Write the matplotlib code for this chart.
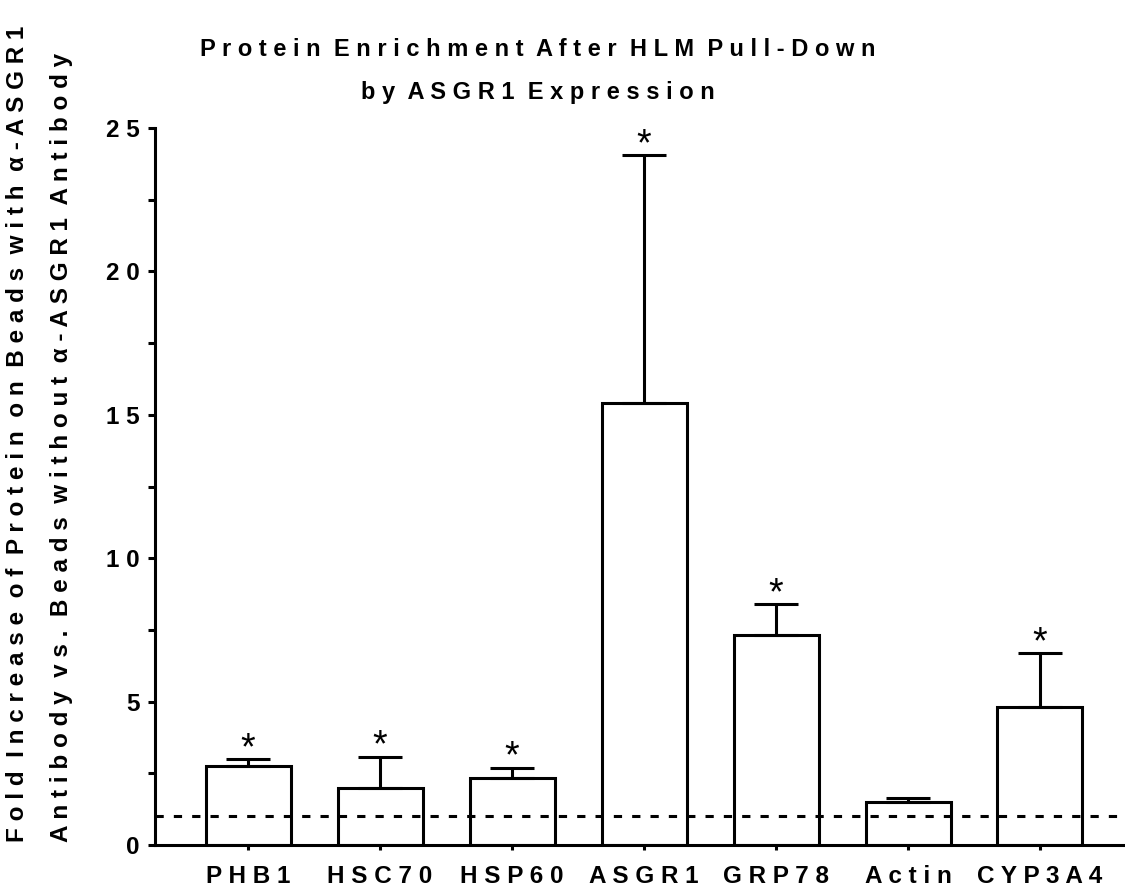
import matplotlib
matplotlib.use('Agg')
import matplotlib.pyplot as plt
import numpy as np

# data
proteins = ['PHB1', 'HSC70', 'HSP60', 'ASGR1', 'GRP78', 'Actin', 'CYP3A4']
fold = [2.76, 1.98, 2.33, 15.42, 7.32, 1.51, 4.81]
err_up = [0.23, 1.10, 0.37, 8.64, 1.08, 0.12, 1.89]
signif = [True, True, True, True, True, False, True]
yticks = [0, 5, 10, 15, 20, 25]
baseline = 1.0

title = 'Protein Enrichment After HLM Pull-Down\nby ASGR1 Expression'
ylab1 = 'Fold Increase of Protein on Beads with \u03b1-ASGR1'
ylab2 = 'Antibody vs. Beads without \u03b1-ASGR1 Antibody'

FONT = 'Liberation Sans'
LW = 2.2


def spaced(s):
    '''
    fake the wide letter spacing of the original
    '''
    return '\n'.join('  '.join(' '.join(w) for w in line.split(' '))
                     for line in s.split('\n'))


fig = plt.figure(figsize=(11.25, 8.9), dpi=100)
ax = fig.add_axes([155/1125, 1-845/890, 1-155/1125, (845-128)/890])

x = np.arange(len(proteins))
ax.bar(x, fold, width=0.644, color='white', edgecolor='black',
       linewidth=LW, zorder=2)
ax.errorbar(x, fold, yerr=[np.zeros(len(fold)), err_up], fmt='none',
            ecolor='black', elinewidth=LW, capsize=15.5, capthick=LW, zorder=3)
ax.axhline(baseline, color='black', lw=LW, ls=(0, (2.7, 3.3)), zorder=4)

for xi, v, e, s in zip(x, fold, err_up, signif):
    if s:
        ax.annotate('*', (xi, v+e), xytext=(0, 0), textcoords='offset points',
                    ha='center', va='baseline', fontsize=27, family=FONT,
                    annotation_clip=False)

ax.set_xlim(-0.705, 6.644)
ax.set_ylim(0, 25)
ax.set_yticks(yticks)
ax.set_yticks(np.arange(2.5, 25, 5), minor=True)
ax.set_yticklabels([spaced(str(t)) for t in yticks], fontsize=17.5,
                   fontweight='bold', family=FONT)
ax.set_xticks(x)
ax.set_xticklabels([spaced(p) for p in proteins], fontsize=17.5,
                   fontweight='bold', family=FONT)

ax.tick_params(axis='y', which='both', length=5, width=LW, pad=6)
ax.tick_params(axis='x', length=3.6, width=LW, pad=11)
for side in ['top', 'right']:
    ax.spines[side].set_visible(False)
for side in ['left', 'bottom']:
    ax.spines[side].set_linewidth(LW)

fig.text(0.478, 1-38/890, spaced(title), ha='center', va='top',
         fontsize=17, fontweight='bold', family=FONT, linespacing=2.1)
fig.text(18/1125, 1-842/890, spaced(ylab1), rotation=90, ha='center',
         va='bottom', fontsize=17.5, fontweight='bold', family=FONT)
fig.text(62/1125, 1-842/890, spaced(ylab2), rotation=90, ha='center',
         va='bottom', fontsize=17.5, fontweight='bold', family=FONT)

fig.savefig('out.png', dpi=100)
